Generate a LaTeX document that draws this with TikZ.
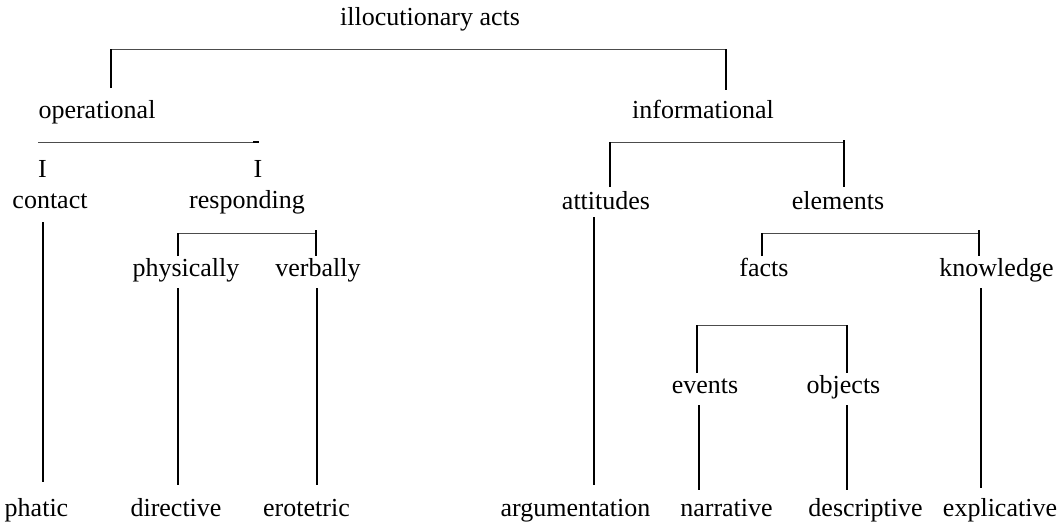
\documentclass[tikz,border=0pt]{standalone}
\usepackage{fontspec}
\setmainfont{Liberation Serif}

\begin{document}
\begin{tikzpicture}[x=1pt,y=-1pt,
  word/.style={anchor=base,inner sep=0pt,font=\fontsize{26}{30}\selectfont},
  vline/.style={line width=1.6pt},
  hline/.style={line width=1pt,black!70}]
  \useasboundingbox (0,0) rectangle (1061,523);

  % words
  \node[word] (acts) at (430,25) {illocutionary acts};
  \node[word] (oper) at (97,118) {operational};
  \node[word] (info) at (703,118) {informational};
  \node[word] (ia) at (42.5,177) {I};
  \node[word] (ib) at (258,177) {I};
  \node[word] (contact) at (50,208) {contact};
  \node[word] (resp) at (247,208) {responding};
  \node[word] (att) at (606,209) {attitudes};
  \node[word] (elem) at (838,209) {elements};
  \node[word] (phys) at (186,276) {physically};
  \node[word] (verb) at (318,276) {verbally};
  \node[word] (facts) at (764,276) {facts};
  \node[word] (know) at (996.5,276) {knowledge};
  \node[word] (events) at (705,393) {events};
  \node[word] (objects) at (843.5,393) {objects};
  \node[word] (phatic) at (36.5,516) {phatic};
  \node[word] (dir) at (176,516) {directive};
  \node[word] (erot) at (306.5,516) {erotetric};
  \node[word] (arg) at (575.5,516) {argumentation};
  \node[word] (narr) at (726.5,516) {narrative};
  \node[word] (descr) at (865.5,516) {descriptive};
  \node[word] (expl) at (1000,516) {explicative};

  % bracket corners and line ends
  \coordinate (t1) at (111,88);  \coordinate (t2) at (111,49);
  \coordinate (t3) at (726,49);  \coordinate (t4) at (726,90);
  \coordinate (o1) at (38,142);  \coordinate (o2) at (253,142);
  \coordinate (o3) at (259,142);
  \coordinate (c1) at (43,222);  \coordinate (c2) at (43,482);
  \coordinate (r1) at (178,256); \coordinate (r2) at (178,233);
  \coordinate (r3) at (316,233); \coordinate (r4) at (316,230);
  \coordinate (r5) at (316,256);
  \coordinate (p1) at (178,288); \coordinate (p2) at (178,485);
  \coordinate (v1) at (317,288); \coordinate (v2) at (317,485);
  \coordinate (i1) at (610,187); \coordinate (i2) at (610,142);
  \coordinate (i3) at (844,142); \coordinate (i4) at (844,140);
  \coordinate (i5) at (844,187);
  \coordinate (a1) at (594,217); \coordinate (a2) at (594,485);
  \coordinate (e1) at (762,256); \coordinate (e2) at (762,233);
  \coordinate (e3) at (979,233); \coordinate (e4) at (979,230);
  \coordinate (e5) at (979,256);
  \coordinate (k1) at (981,288); \coordinate (k2) at (981,488);
  \coordinate (f1) at (697,373); \coordinate (f2) at (697,325);
  \coordinate (f3) at (847,325); \coordinate (f4) at (847,373);
  \coordinate (ev1) at (699,405); \coordinate (ev2) at (699,490);
  \coordinate (ob1) at (847,405); \coordinate (ob2) at (847,490);

  % brackets
  \draw[hline] (t2) -- (t3);
  \draw[vline] (t1) -- (t2);
  \draw[vline] (t3) -- (t4);
  \draw[hline] (o1) -- (o2);
  \draw[line width=1.4pt] (o2) -- (o3);
  \draw[hline] (r2) -- (r3);
  \draw[vline] (r1) -- (r2);
  \draw[vline] (r4) -- (r5);
  \draw[hline] (i2) -- (i3);
  \draw[vline] (i1) -- (i2);
  \draw[vline] (i4) -- (i5);
  \draw[hline] (e2) -- (e3);
  \draw[vline] (e1) -- (e2);
  \draw[vline] (e4) -- (e5);
  \draw[hline] (f2) -- (f3);
  \draw[vline] (f1) -- (f2);
  \draw[vline] (f3) -- (f4);

  % long lines down to the leaves
  \draw[vline] (c1) -- (c2);
  \draw[vline] (p1) -- (p2);
  \draw[vline] (v1) -- (v2);
  \draw[vline] (a1) -- (a2);
  \draw[vline] (k1) -- (k2);
  \draw[vline] (ev1) -- (ev2);
  \draw[vline] (ob1) -- (ob2);

\end{tikzpicture}
\end{document}
